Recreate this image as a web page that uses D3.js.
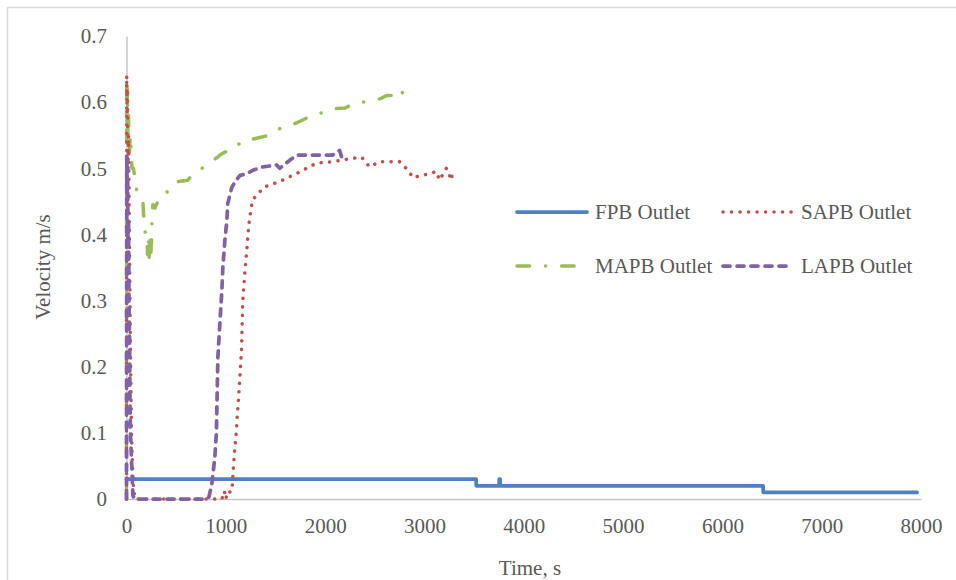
<!DOCTYPE html>
<html>
<head>
<meta charset="utf-8">
<script src="https://cdn.jsdelivr.net/npm/d3@7/dist/d3.min.js"></script>
<style>
  html, body { margin: 0; padding: 0; background: #ffffff; }
  svg { display: block; }
  text { font-family: "Liberation Serif", "DejaVu Serif", serif; fill: #595959; }
</style>
</head>
<body>
<svg id="chart" width="956" height="580"></svg>
<script>
// Axis ticks
const xTicks = [0, 1000, 2000, 3000, 4000, 5000, 6000, 7000, 8000];
const yTicks = [0, 0.1, 0.2, 0.3, 0.4, 0.5, 0.6, 0.7];
const yTickLabels = ["0", "0.1", "0.2", "0.3", "0.4", "0.5", "0.6", "0.7"];

// Outlet velocity series: [time (s), velocity (m/s)]
const fpbOutlet = [
  [0, 0.03], [3520, 0.03], [3522, 0.02], [3752, 0.02], [3753, 0.03], [3762, 0.03],
  [3763, 0.02], [6410, 0.02], [6412, 0.01], [7960, 0.01]
];

const sapbOutlet = [
  [0, 0], [2, 0.64], [6, 0.58], [10, 0.62], [15, 0.5], [20, 0.55], [28, 0.42], [35, 0.3],
  [42, 0.2], [50, 0.1], [60, 0.05], [70, 0.02], [85, 0], [960, 0], [985, 0.012], [1000, 0],
  [1020, 0.012], [1050, 0.01], [1065, 0.02], [1075, 0.045], [1090, 0.075], [1105, 0.1],
  [1115, 0.125], [1125, 0.145], [1140, 0.18], [1158, 0.225], [1171, 0.3], [1190, 0.34],
  [1211, 0.376], [1231, 0.414], [1255, 0.44], [1271, 0.452], [1312, 0.46], [1392, 0.472],
  [1543, 0.48], [1724, 0.493], [1915, 0.508], [2075, 0.51], [2276, 0.515], [2367, 0.517],
  [2447, 0.502], [2548, 0.51], [2749, 0.51], [2849, 0.495], [2879, 0.486], [3000, 0.49],
  [3121, 0.495], [3151, 0.482], [3221, 0.5], [3271, 0.482], [3281, 0.493]
];

const mapbOutlet = [
  [0, 0], [2, 0.63], [6, 0.56], [10, 0.62], [14, 0.54], [20, 0.58], [28, 0.52], [40, 0.55],
  [55, 0.5], [70, 0.5], [85, 0.485], [106, 0.463], [165, 0.45], [172, 0.43], [190, 0.4],
  [206, 0.4], [212, 0.37], [220, 0.395], [228, 0.365], [236, 0.4], [244, 0.37], [252, 0.39],
  [256, 0.417], [265, 0.445], [286, 0.44], [300, 0.445], [365, 0.463], [437, 0.465],
  [470, 0.47], [520, 0.48], [618, 0.482], [650, 0.488], [719, 0.497], [760, 0.5],
  [839, 0.509], [920, 0.517], [940, 0.52], [1020, 0.527], [1070, 0.528], [1120, 0.535],
  [1171, 0.542], [1271, 0.544], [1350, 0.547], [1442, 0.55], [1543, 0.56], [1623, 0.563],
  [1700, 0.568], [1774, 0.573], [1894, 0.582], [1975, 0.584], [2075, 0.59], [2200, 0.591],
  [2290, 0.598], [2377, 0.6], [2480, 0.602], [2568, 0.606], [2620, 0.61], [2678, 0.61],
  [2720, 0.604], [2799, 0.618], [2879, 0.62]
];

const lapbOutlet = [
  [0, 0], [3, 0.52], [7, 0.45], [11, 0.5], [15, 0.38], [20, 0.42], [25, 0.3], [30, 0.25],
  [35, 0.15], [40, 0.1], [50, 0.06], [58, 0.03], [65, 0.005], [80, 0], [789, 0], [830, 0.003],
  [859, 0.023], [889, 0.062], [905, 0.1], [910, 0.138], [920, 0.214], [940, 0.265],
  [960, 0.315], [970, 0.35], [990, 0.39], [1010, 0.42], [1020, 0.447], [1060, 0.471],
  [1091, 0.479], [1141, 0.489], [1211, 0.492], [1271, 0.497], [1372, 0.502], [1513, 0.505],
  [1543, 0.5], [1643, 0.512], [1714, 0.52], [1874, 0.52], [2075, 0.52], [2146, 0.527],
  [2176, 0.512]
];

const seriesNames = ["FPB Outlet", "SAPB Outlet", "MAPB Outlet", "LAPB Outlet"];
const seriesData = [fpbOutlet, sapbOutlet, mapbOutlet, lapbOutlet];

// Line styles for each series
const styles = [
  { color: "#4f81bd", width: 3.75, dash: null, cap: "round" },
  { color: "#c0504d", width: 3.5, dash: "0.1,8.4", cap: "round" },
  { color: "#9bbb59", width: 3.5, dash: "12.5,16,0.1,16", cap: "round" },
  { color: "#8064a2", width: 3.75, dash: "7,7", cap: "round" }
];

const svg = d3.select("#chart");
svg.append("rect").attr("width", 956).attr("height", 580).attr("fill", "#ffffff");
svg.append("rect")
  .attr("x", 7.5).attr("y", 7.5).attr("width", 980).attr("height", 620)
  .attr("fill", "none").attr("stroke", "#d9d9d9").attr("stroke-width", 1.5);

const x = d3.scaleLinear().domain([0, 8000]).range([126.5, 921]);
const y = d3.scaleLinear().domain([0, 0.7]).range([499, 36]);

// Axes
const xAxis = d3.axisBottom(x).tickValues(xTicks).tickFormat(d3.format("d"))
  .tickSize(0).tickPadding(19);
const yAxis = d3.axisLeft(y).tickValues(yTicks).tickFormat((d, i) => yTickLabels[i])
  .tickSize(0).tickPadding(19.5);

const gx = svg.append("g").attr("transform", `translate(0,${y(0)})`).call(xAxis);
const gy = svg.append("g").attr("transform", `translate(${x(0)},0)`).call(yAxis);
[gx, gy].forEach(g => {
  g.select(".domain").attr("stroke", "#c6c6c6").attr("stroke-width", 1.5);
  g.selectAll("text").attr("font-size", 21).attr("fill", "#595959")
    .attr("font-family", "Liberation Serif, DejaVu Serif, serif");
});

// Axis titles
svg.append("text")
  .attr("transform", "translate(50,267) rotate(-90)")
  .attr("text-anchor", "middle")
  .attr("font-size", 21)
  .text("Velocity m/s");
svg.append("text")
  .attr("x", 530).attr("y", 575)
  .attr("text-anchor", "middle")
  .attr("font-size", 21)
  .text("Time, s");

// Series lines
const line = d3.line().x(d => x(d[0])).y(d => y(d[1]));
const drawOrder = [0, 2, 1, 3];
drawOrder.forEach(i => {
  const s = styles[i];
  svg.append("path")
    .datum(seriesData[i])
    .attr("d", line)
    .attr("fill", "none")
    .attr("stroke", s.color)
    .attr("stroke-width", s.width)
    .attr("stroke-linecap", s.cap)
    .attr("stroke-linejoin", "round")
    .attr("stroke-dasharray", s.dash);
});

// Legend
const legendPos = [
  { x: 517, y: 212 }, { x: 723, y: 212 },
  { x: 517, y: 266 }, { x: 723, y: 266 }
];
seriesNames.forEach((name, i) => {
  const s = styles[i];
  const p = legendPos[i];
  const g = svg.append("g").attr("transform", `translate(${p.x},${p.y})`);
  g.append("line")
    .attr("x1", 0).attr("x2", i === 0 ? 70 : 69).attr("y1", 0).attr("y2", 0)
    .attr("stroke", s.color).attr("stroke-width", s.width)
    .attr("stroke-linecap", s.cap).attr("stroke-dasharray", s.dash);
  g.append("text")
    .attr("x", 78).attr("y", 0).attr("dy", "0.33em")
    .attr("font-size", 21)
    .text(name);
});
</script>
</body>
</html>
